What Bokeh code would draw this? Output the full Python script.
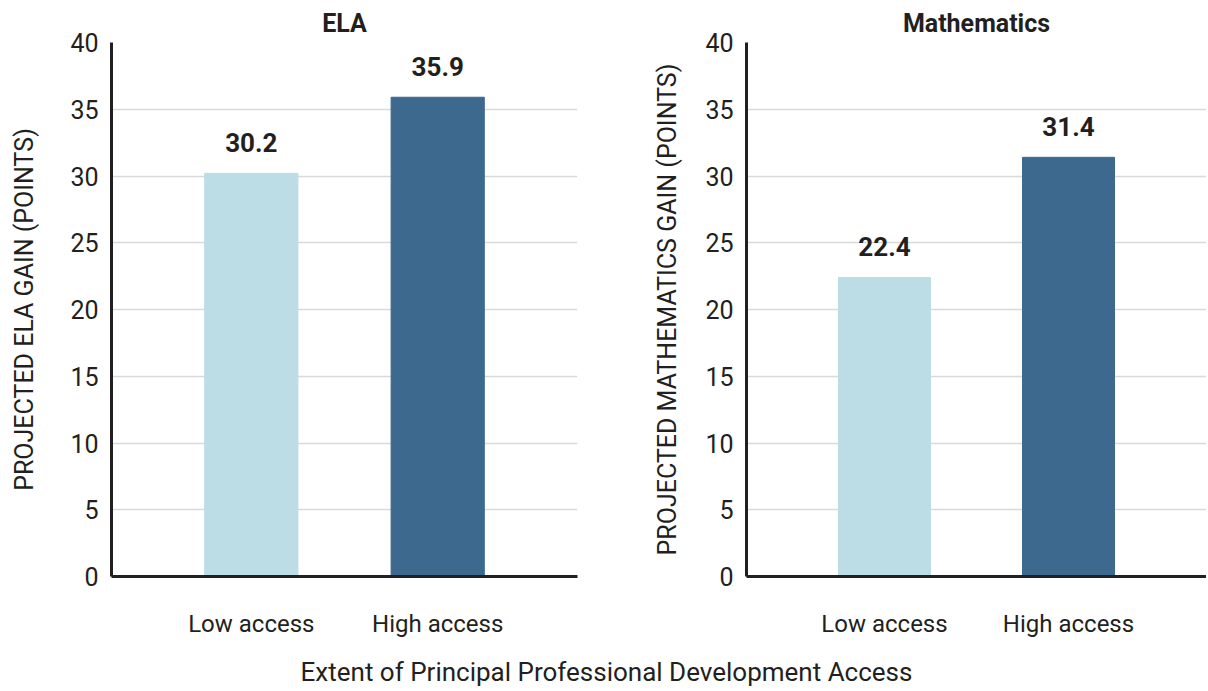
from bokeh.plotting import figure
from bokeh.models import FactorRange, Range1d, FixedTicker, ColumnDataSource, LabelSet, Label
from bokeh.core.properties import value
from bokeh.layouts import column, row
from bokeh.embed import file_html
from bokeh.resources import INLINE

categories = ["Low access", "High access"]
ela_values = [30.2, 35.9]
math_values = [22.4, 31.4]
bar_colors = ["#BCDDE5", "#3E698E"]
y_ticks = [0, 5, 10, 15, 20, 25, 30, 35, 40]
panel_titles = ["ELA", "Mathematics"]
y_labels = ["PROJECTED ELA GAIN (POINTS)", "PROJECTED MATHEMATICS GAIN (POINTS)"]
x_title = "Extent of Principal Professional Development Access"

FONT = "Roboto"
TXT = "#231F20"


def panel(title, ylabel, values, width, border_left, border_right, label_standoff):
    p = figure(
        x_range=FactorRange(factors=categories, range_padding=0.25, range_padding_units="absolute"),
        y_range=Range1d(0, 40),
        width=width, height=646, output_backend="svg", toolbar_location=None,
        title=title, min_border_left=border_left, min_border_right=border_right,
        min_border_top=42, min_border_bottom=70,
    )
    p.outline_line_color = None
    p.title.align = "center"
    p.title.text_font = FONT
    p.title.text_font_size = "25px"
    p.title.text_font_style = "bold"
    p.title.text_color = TXT

    src = ColumnDataSource(dict(cat=categories, val=values, color=bar_colors,
                                txt=[f"{v:.1f}" for v in values]))
    p.vbar(x="cat", top="val", width=0.5, color="color", source=src)
    p.add_layout(LabelSet(x="cat", y="val", text="txt", source=src, text_align="center",
                          text_baseline="middle", y_offset=31, text_font=value(FONT),
                          text_font_size=value("26px"), text_font_style="bold",
                          text_color=TXT))

    p.xgrid.grid_line_color = None
    p.ygrid.grid_line_color = "#D9D9D9"
    p.ygrid.grid_line_width = 1.5
    p.yaxis.ticker = FixedTicker(ticks=y_ticks)
    p.yaxis.minor_tick_line_color = None
    for ax in (p.xaxis[0], p.yaxis[0]):
        ax.major_tick_out = 0
        ax.major_tick_in = 0
        ax.axis_line_color = TXT
        ax.axis_line_width = 3
        ax.major_label_text_font = FONT
        ax.major_label_text_color = TXT
    p.yaxis.major_label_text_font_size = "25px"
    p.xaxis.major_label_text_font_size = "24px"
    p.xaxis.major_label_standoff = 33
    p.yaxis.major_label_standoff = 13
    p.yaxis.axis_label = ylabel
    p.yaxis.axis_label_text_font = FONT
    p.yaxis.axis_label_text_font_size = "25px"
    p.yaxis.axis_label_text_font_style = "normal"
    p.yaxis.axis_label_text_color = TXT
    p.yaxis.axis_label_standoff = label_standoff
    return p


p1 = panel(panel_titles[0], y_labels[0], ela_values, 608, 111, 31, 28)
p2 = panel(panel_titles[1], y_labels[1], math_values, 598, 138, 0, 20)

p3 = figure(width=1206, height=43, x_range=Range1d(0, 1206), y_range=Range1d(0, 43),
            output_backend="svg", toolbar_location=None, min_border=0)
p3.axis.visible = False
p3.grid.visible = False
p3.outline_line_color = None
p3.add_layout(Label(x=606, y=18, text=x_title, text_align="center", text_baseline="middle",
                    text_font=FONT, text_font_size="26px", text_color=TXT))

layout = column(row(p1, p2), p3)
open("out.html", "w").write(file_html(layout, INLINE))
